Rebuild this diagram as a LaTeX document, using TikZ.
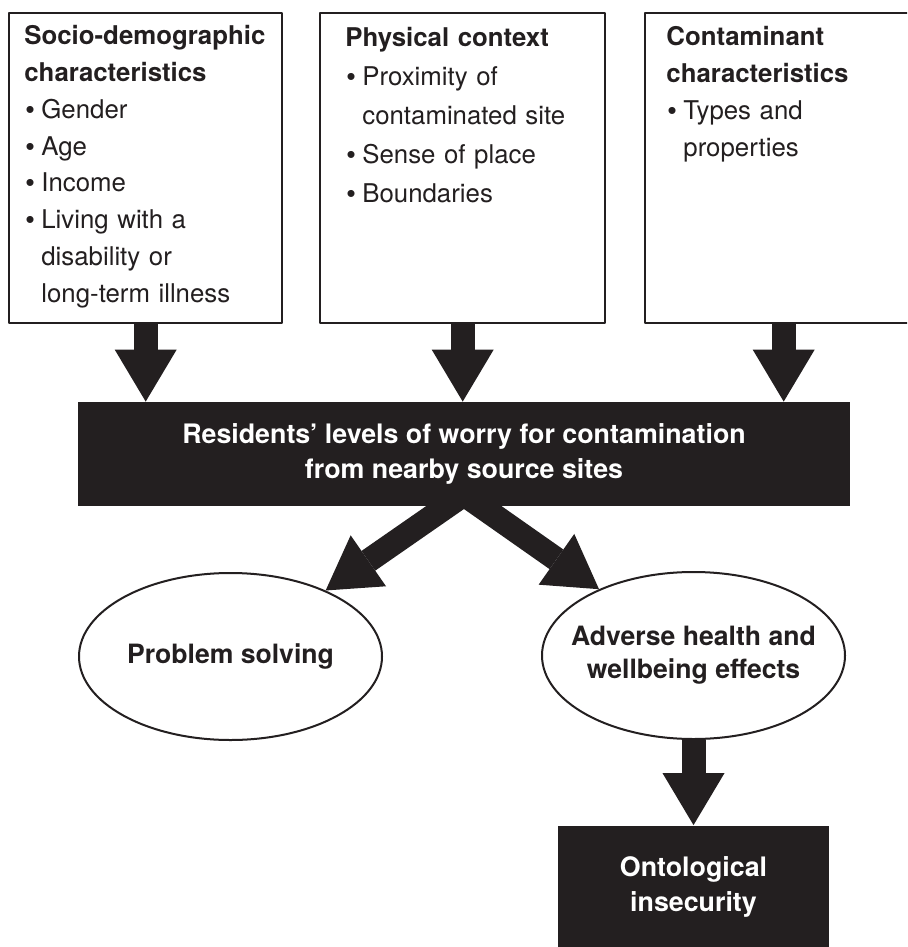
\documentclass[tikz,border=0pt]{standalone}
\usepackage{fontspec}
\setmainfont{TeX Gyre Heros}
\newfontfamily\bulfont{Liberation Sans}
\usetikzlibrary{arrows.meta,shapes.geometric,calc}

\definecolor{ink}{HTML}{231F20}
% bullet and hanging indent for the lists
\newcommand{\bul}{\makebox[8.5pt][l]{\hspace{0.6pt}{\bulfont\textbullet}}}
\newcommand{\ind}{\hspace*{8.5pt}}

\begin{document}
\begin{tikzpicture}[x=0.5pt, y=-0.5pt, line join=round,
    topbox/.style={draw=ink, line width=1.2pt, rectangle, anchor=north west,
      minimum height=155pt, inner sep=0pt},
    toptext/.style={anchor=north west, inner sep=0pt, align=left, text=ink,
      text width=128pt, font=\fontsize{12.9pt}{18.4pt}\selectfont},
    darkbox/.style={fill=ink, text=white, align=center, inner sep=0pt,
      font=\fontsize{13.4pt}{17.5pt}\selectfont\bfseries},
    oval/.style={ellipse, draw=ink, line width=1pt, fill=white, text=ink,
      align=center, inner xsep=-10pt, inner ysep=0pt,
      minimum width=151.5pt, minimum height=83.5pt,
      font=\fontsize{13.3pt}{16.5pt}\selectfont\bfseries},
    fat/.style={draw=ink, line width=12pt,
      -{Triangle[width=31pt, length=26pt, line width=0pt]}}]

  % page frame
  \useasboundingbox (0,0) rectangle (907,947);
  \clip (0,0) rectangle (907,947);
  \fill[white] (0,0) rectangle (907,947);

  % the three input boxes
  \node[topbox, minimum width=136.5pt] (socio)    at (8,12)   {};
  \node[topbox, minimum width=142.5pt] (physical) at (319,12) {};
  \node[topbox, minimum width=138.5pt] (contam)   at (644,12) {};

  \node[toptext] (sociotxt) at ($(socio.north west)+(16,13)$)
    {\textbf{Socio-demographic}\\ \textbf{characteristics}\\
     \bul Gender\\ \bul Age\\ \bul Income\\ \bul Living with a\\
     \ind disability or\\ \ind long-term illness};
  \node[toptext, font=\fontsize{12.9pt}{19.5pt}\selectfont] (phystxt)
    at ($(physical.north west)+(26,15)$)
    {\textbf{Physical context}\\ \bul Proximity of\\
     \ind contaminated site\\ \bul Sense of place\\ \bul Boundaries};
  \node[toptext] (contamtxt) at ($(contam.north west)+(22,14)$)
    {\textbf{Contaminant}\\ \textbf{characteristics}\\
     \bul Types and\\ \ind properties};

  % central worry box
  \node[darkbox, minimum width=386pt, minimum height=52pt] (worry) at (464,454)
    {Residents’ levels of worry for contamination\\ from nearby source sites};

  % outcomes
  \node[oval] (problem) at (230.5,656.5) {Problem solving};
  \node[oval] (adverse) at (693.5,655.5) {Adverse health and\\ wellbeing effects};
  \node[darkbox, minimum width=135.5pt, minimum height=61.5pt] (onto)
    at (693.5,887) {Ontological\\ insecurity};

  % block arrows
  \foreach \b in {socio, physical, contam}
    \draw[fat] (\b.south) -- (\b.south |- worry.north);
  \coordinate (fork) at ($(worry.south)+(0,-12)$);
  \draw[fat] (fork) -- (problem);
  \draw[fat] (fork) -- (adverse);
  \draw[fat] (adverse.south) -- (onto.north);
\end{tikzpicture}
\end{document}
